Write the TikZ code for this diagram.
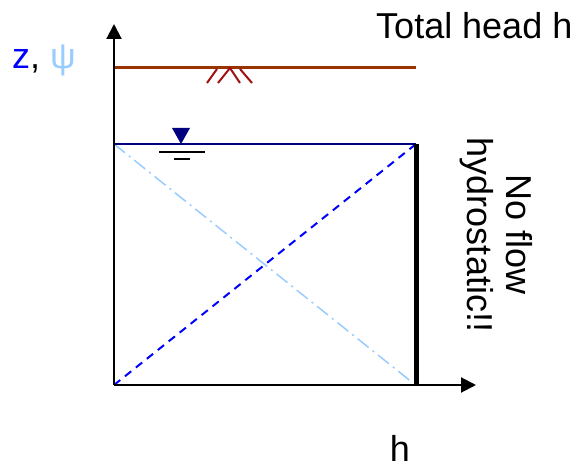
\documentclass[tikz,border=0pt]{standalone}
\usepackage{fontspec}
\setmainfont{Liberation Sans}
\usetikzlibrary{arrows.meta}
\definecolor{brownline}{HTML}{993300}
\definecolor{hatchred}{HTML}{A01010}
\definecolor{navyline}{HTML}{000080}
\definecolor{lightblue}{HTML}{99CCFF}
\definecolor{zblue}{HTML}{0000FF}
\tikzset{
  axis/.style={line width=2pt, -{Triangle[length=15pt,width=15pt]}},
  lbl/.style={inner sep=0pt, font=\fontsize{36}{36}\selectfont},
  hatch/.style={hatchred, line width=2pt},
}
\begin{document}
\begin{tikzpicture}[x=1pt,y=-1pt]
\useasboundingbox (0,0) rectangle (581,465);
% coordinates
\coordinate (O) at (114,385);
\coordinate (ytop) at (114,24);
\coordinate (xend) at (476,385);
\coordinate (gsL) at (114,68);
\coordinate (gsR) at (416,68);
\coordinate (A) at (114,144);
\coordinate (B) at (416,144);
\coordinate (C) at (416,385);
\coordinate (Cd) at (413,383);
% ground surface
\draw[brownline, line width=3pt] (gsL) -- (gsR);
\coordinate (h1a) at (207,83); \coordinate (h1b) at (217,69);
\coordinate (h2a) at (218,83); \coordinate (h2b) at (230,68); \coordinate (h2c) at (240,83);
\coordinate (h3a) at (240,69); \coordinate (h3b) at (252,83);
\draw[hatch] (h1a) -- (h1b);
\draw[hatch] (h2a) -- (h2b) -- (h2c);
\draw[hatch] (h3a) -- (h3b);
% diagonals
\draw[lightblue, line width=1.5pt, dash pattern=on 14pt off 5pt on 2pt off 5pt] (A) -- (Cd);
\draw[zblue, line width=2pt, dash pattern=on 8pt off 6pt] (O) -- (B);
% water table
\draw[navyline, line width=2pt] (A) -- (B);
\coordinate (t1) at (172,128); \coordinate (t2) at (190,128); \coordinate (t3) at (181,144);
\fill[navyline] (t1) -- (t2) -- (t3) -- cycle;
\coordinate (w1a) at (159,152); \coordinate (w1b) at (205,152);
\coordinate (w2a) at (174,159); \coordinate (w2b) at (190,159);
\draw[line width=2pt] (w1a) -- (w1b);
\draw[line width=2pt] (w2a) -- (w2b);
% no-flow boundary
\draw[line width=5pt] (B) -- (C);
% axes
\draw[axis] (O) -- (ytop);
\draw[axis] (O) -- (xend);
% labels
\node[lbl, anchor=base west] (zlab) at (12,69) {\textcolor{zblue}{z}, \textcolor{lightblue}{ψ}};
\node[lbl, anchor=base west] (thlab) at (376,39) {Total head h};
\node[lbl, anchor=base] (hlab) at (400,461) {h};
\node[lbl, rotate=-90, align=center, font=\fontsize{36}{39}\selectfont] (nf) at (496,235) {No flow\\hydrostatic!!};
\end{tikzpicture}
\end{document}
